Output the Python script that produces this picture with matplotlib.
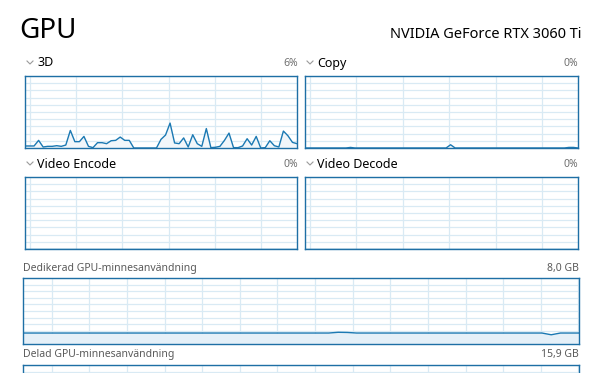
import numpy as np
import matplotlib.pyplot as plt
from matplotlib.lines import Line2D

plt.rcParams['font.family'] = ['Noto Sans', 'DejaVu Sans']

W, H = 599, 373

# utilization samples (%), last 60 seconds
gpu_3d = [2.8, 2.8, 2.8, 10.6, 1.4, 2.3, 2.3, 3.2, 2.3, 4.1,
          24.4, 8.8, 8.8, 16.1, 2.3, 0.5, 7.4, 7.4, 6.0, 10.1,
          10.6, 15.2, 10.6, 10.6, 0, 0, 0, 0, 0, 0,
          12, 18, 34.6, 7, 6, 14, 1.4, 18.4, 6, 2.3,
          27, 0.5, 1, 2.3, 10.6, 20.7, 0.5, 0.5, 2.8, 12.9,
          4.1, 16.1, 0, 0.5, 10.1, 3.2, 1.4, 23.5, 17, 7.8, 6]
gpu_copy = [0] * 61
gpu_copy[10] = 0.8
gpu_copy[32] = 4.5
gpu_copy[58] = 0.8
gpu_copy[59] = 0.8
video_encode = [0] * 61
video_decode = [0] * 61

# memory samples (GB)
dedicated_mem = [1.33] * 61
dedicated_mem[34] = 1.42
dedicated_mem[35] = 1.40
dedicated_mem[57] = 1.12
shared_mem = [0.1] * 61

LINE = '#1b79b3'
BORDER = '#1e6fa5'
GRID = '#d9eaf4'
FILL = '#f1f6fa'
MEMFILL = '#e5f0f8'


def box(l, t, r, b):
    return [l / W, 1 - b / H, (r - l) / W, (b - t) / H]


def txt(x, y, s, **kw):
    fig.text(x / W, 1 - y / H, s, va='center', **kw)


def chevron(x, y):
    xs = [x / W, (x + 3) / W, (x + 6) / W]
    ys = [1 - (y - 2) / H, 1 - (y + 1) / H, 1 - (y - 2) / H]
    fig.add_artist(Line2D(xs, ys, color='#9a9a9a', lw=0.8))


def panel(rect, values, ymax, x0, step, fill):
    ax = fig.add_axes(box(*rect))
    x = np.arange(len(values))
    ax.fill_between(x, values, 0, color=fill, lw=0)
    ax.plot(x, values, color=LINE, lw=1.0)
    ax.set_xlim(0, len(values) - 1)
    ax.set_ylim(0, ymax)
    ax.set_xticks(np.arange(x0, len(values), step))
    ax.set_yticks(np.linspace(0, ymax, 11))
    ax.grid(True, color=GRID, lw=0.9)
    ax.set_axisbelow(True)
    ax.tick_params(length=0, labelbottom=False, labelleft=False)
    for s in ax.spines.values():
        s.set_color(BORDER)
        s.set_linewidth(1.0)
    return ax


fig = plt.figure(figsize=(W / 100, H / 100), dpi=100)

txt(19, 31, 'GPU', fontsize=20, color='black')
txt(581, 34, 'NVIDIA GeForce RTX 3060 Ti', fontsize=10.5, ha='right', color='black')

panel((25, 76, 297, 148), gpu_3d, 100, 1.1, 10.2, FILL)
panel((305, 76, 578, 148), gpu_copy, 100, 1.1, 10.2, FILL)
panel((25, 177, 297, 249), video_encode, 100, 1.1, 10.2, FILL)
panel((305, 177, 578, 249), video_decode, 100, 1.1, 10.2, FILL)
panel((23, 278, 579, 344), dedicated_mem, 8.0, 3.1, 4.06, MEMFILL)
panel((23, 365, 579, 431), shared_mem, 15.9, 3.1, 4.06, MEMFILL)

heads = [(25, 63, '3D', 298, '6%'), (305, 63, 'Copy', 578, '0%'),
         (25, 164, 'Video Encode', 298, '0%'), (305, 164, 'Video Decode', 578, '0%')]
for x, y, name, rx, val in heads:
    chevron(x + 2, y)
    txt(x + 12, y, name, fontsize=9, color='black')
    txt(rx, y, val, fontsize=7.5, ha='right', color='#707070')

txt(23, 269, 'Dedikerad GPU-minnesanvändning', fontsize=7.5, color='#5a5a5a')
txt(579, 269, '8,0 GB', fontsize=7.5, ha='right', color='#5a5a5a')
txt(23, 355, 'Delad GPU-minnesanvändning', fontsize=7.5, color='#5a5a5a')
txt(579, 355, '15,9 GB', fontsize=7.5, ha='right', color='#5a5a5a')

fig.savefig('out.png', dpi=100)
